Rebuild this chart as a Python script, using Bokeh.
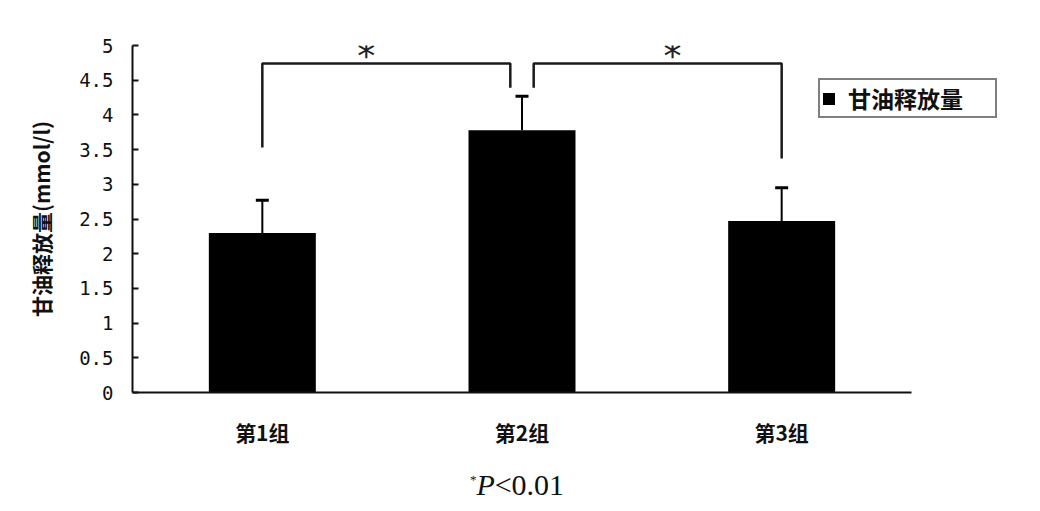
from bokeh.plotting import figure
from bokeh.layouts import column
from bokeh.models import (Range1d, FixedTicker, Whisker, TeeHead, ColumnDataSource,
                          Legend, LegendItem, Div)
from bokeh.core.properties import value
from bokeh.embed import file_html
from bokeh.resources import INLINE

# ---------------- data ----------------
groups = ["第1组", "第2组", "第3组"]
means = [2.30, 3.78, 2.47]
sds = [0.47, 0.49, 0.48]
legend_label = "甘油释放量"
y_axis_title = "甘油释放量(mmol/l)"
y_ticks = [0, 0.5, 1, 1.5, 2, 2.5, 3, 3.5, 4, 4.5, 5]
y_tick_labels = ["0", "0.5", "1", "1.5", "2", "2.5", "3", "3.5", "4", "4.5", "5"]
# significance brackets: (group a, group b), leg bottoms, top level
bracket_pairs = [(0, 1), (1, 2)]
bracket_leg_bottoms = [(3.53, 4.39), (4.39, 3.37)]
bracket_top = 4.74
star_text = "*"
star_x = [0.90, 2.08]
star_y = 4.86
caption_html = "<sup style='font-size:13px'>*</sup><i>P</i>&lt;0.01"

# ---------------- figure ----------------
W, H = 1024, 455
BL, BR, BT, BB = 132, 10, 45, 63
axis_px = 779                      # pixel length of the category axis
frame_w = W - BL - BR
x_end = len(groups) * frame_w / axis_px

p = figure(width=W, height=H, output_backend="svg", toolbar_location=None,
           x_range=Range1d(0, x_end), y_range=Range1d(0, 5),
           min_border_left=BL, min_border_right=BR,
           min_border_top=BT, min_border_bottom=BB)
p.outline_line_color = None
p.grid.visible = False
p.background_fill_color = "white"
p.border_fill_color = "white"

xs = [i + 0.5 for i in range(len(groups))]
src = ColumnDataSource(dict(x=xs, top=means,
                            upper=[m + s for m, s in zip(means, sds)]))

bars = p.vbar(x="x", top="top", bottom=0, width=0.412, source=src,
              fill_color="black", line_color=None)

wh = Whisker(source=src, base="x", lower="top", upper="upper", dimension="height",
             line_color="black", line_width=2,
             upper_head=TeeHead(size=13, line_width=3, line_color="black"),
             lower_head=None)
p.add_layout(wh)

# brackets
gap = 0.045
bx, by = [], []
for (a, b), (la, lb) in zip(bracket_pairs, bracket_leg_bottoms):
    xa = xs[a] + (gap if a == 1 else 0)
    xb = xs[b] - (gap if b == 1 else 0)
    bx.append([xa, xa, xb, xb])
    by.append([la, bracket_top, bracket_top, lb])
p.multi_line(xs=bx, ys=by, line_color="#1a1a1a", line_width=2.5)

p.text(x=star_x, y=[star_y] * len(star_x), text=[star_text] * len(star_x),
       text_font=value("DejaVu Sans"), text_font_size="36px",
       text_align="center", text_baseline="middle", text_color="#222222")

# axes
xa_ = p.xaxis[0]
xa_.bounds = (0, len(groups))
xa_.ticker = FixedTicker(ticks=xs)
xa_.major_label_overrides = {x: g for x, g in zip(xs, groups)}
xa_.major_tick_line_color = None
xa_.minor_tick_line_color = None
xa_.axis_line_width = 2
xa_.axis_line_color = "#111111"
xa_.major_label_standoff = 18
xa_.major_label_text_font = "Noto Sans CJK SC"
xa_.major_label_text_font_size = "21px"
xa_.major_label_text_font_style = "bold"
xa_.major_label_text_color = "#111111"

ya = p.yaxis[0]
ya.ticker = FixedTicker(ticks=y_ticks)
ya.major_label_overrides = {t: l for t, l in zip(y_ticks, y_tick_labels)}
ya.major_tick_in = 6
ya.major_tick_out = 0
ya.major_tick_line_width = 2
ya.minor_tick_line_color = None
ya.axis_line_width = 2
ya.axis_line_color = "#111111"
ya.major_tick_line_color = "#111111"
ya.major_label_standoff = 19
ya.major_label_text_font = "DejaVu Sans Mono"
ya.major_label_text_font_size = "19px"
ya.major_label_text_color = "#111111"
ya.axis_label = y_axis_title
ya.axis_label_standoff = 20
ya.axis_label_text_font = "Noto Sans CJK SC"
ya.axis_label_text_font_size = "21px"
ya.axis_label_text_font_style = "bold"
ya.axis_label_text_color = "#111111"

# legend
leg = Legend(items=[LegendItem(label=legend_label, renderers=[bars])],
             location=(686, 274), orientation="vertical",
             glyph_width=15, glyph_height=15, label_standoff=12,
             padding=1, margin=0, spacing=0, label_width=146,
             label_height=20,
             label_text_font="Noto Sans CJK SC", label_text_font_size="23px",
             label_text_font_style="bold", label_text_color="#111111",
             border_line_color="black", border_line_width=2.5,
             background_fill_alpha=1.0)
p.add_layout(leg)

caption = Div(text=caption_html, width=W, height=50,
              styles={"font-family": "Liberation Serif", "font-size": "30px",
                      "text-align": "center", "color": "#111111",
                      "width": f"{W}px", "line-height": "40px"})

layout = column(p, caption, spacing=0)
open("out.html", "w").write(file_html(layout, INLINE))
